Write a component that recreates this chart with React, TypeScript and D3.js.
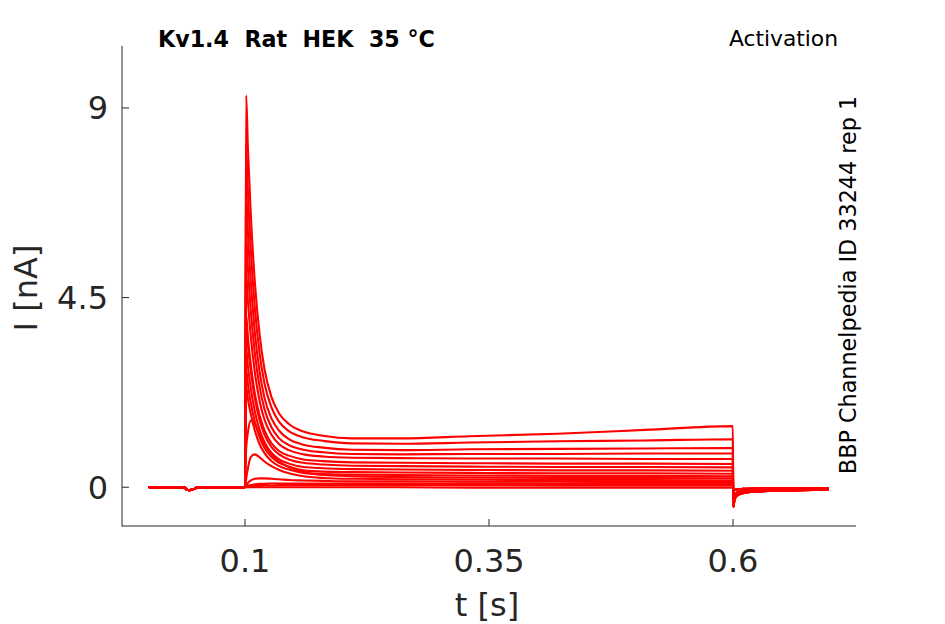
import React from "react";
import * as d3 from "d3";

// ---- data ----
const X_TICKS = [0.1, 0.35, 0.6];
const X_TICK_LABELS = ["0.1", "0.35", "0.6"];
const Y_TICKS = [0, 4.5, 9];
const Y_TICK_LABELS = ["0", "4.5", "9"];

const TIME_PRE = [0.002, 0.038, 0.04, 0.043, 0.047, 0.051, 0.0998];
const BASE_PRE = [0.0, 0.0, -0.05, -0.07, -0.05, -0.01, 0.0];

const TIME_PULSE = [0.1, 0.1012, 0.103, 0.106, 0.11, 0.115, 0.12, 0.127, 0.135, 0.145, 0.16, 0.18, 0.21, 0.26, 0.33, 0.42, 0.51, 0.5998];

const PULSE_1 = [0, 9.3, 8.04, 6.45, 4.9, 3.62, 2.8, 2.15, 1.75, 1.5, 1.32, 1.22, 1.16, 1.16, 1.21, 1.27, 1.36, 1.45];
const PULSE_2 = [0, 8.1, 7.01, 5.62, 4.28, 3.17, 2.46, 1.9, 1.55, 1.33, 1.18, 1.1, 1.04, 1.03, 1.06, 1.09, 1.11, 1.14];
const PULSE_3 = [0, 7.0, 6.06, 4.86, 3.7, 2.74, 2.12, 1.64, 1.34, 1.14, 1.01, 0.94, 0.89, 0.88, 0.9, 0.91, 0.92, 0.93];
const PULSE_4 = [0, 6.0, 5.2, 4.18, 3.2, 2.38, 1.85, 1.43, 1.16, 1.0, 0.89, 0.83, 0.79, 0.78, 0.79, 0.79, 0.8, 0.8];
const PULSE_5 = [0, 5.1, 4.42, 3.57, 2.74, 2.04, 1.6, 1.25, 1.02, 0.88, 0.78, 0.73, 0.7, 0.69, 0.68, 0.68, 0.67, 0.67];
const PULSE_6 = [0, 4.1, 3.56, 2.9, 2.24, 1.7, 1.35, 1.05, 0.86, 0.75, 0.66, 0.62, 0.59, 0.58, 0.57, 0.56, 0.56, 0.55];
const PULSE_7 = [0, 3.9, 3.38, 2.75, 2.12, 1.59, 1.25, 0.96, 0.78, 0.66, 0.58, 0.54, 0.51, 0.5, 0.49, 0.48, 0.48, 0.47];
const PULSE_8 = [0, 3.3, 2.87, 2.34, 1.81, 1.36, 1.07, 0.82, 0.66, 0.56, 0.48, 0.45, 0.43, 0.42, 0.41, 0.4, 0.4, 0.39];
const PULSE_9 = [0, 2.8, 2.44, 2.0, 1.56, 1.18, 0.93, 0.72, 0.58, 0.49, 0.4, 0.37, 0.36, 0.35, 0.34, 0.33, 0.33, 0.32];
const PULSE_10 = [0, 2.4, 2.09, 1.73, 1.35, 1.02, 0.81, 0.62, 0.5, 0.42, 0.34, 0.31, 0.3, 0.29, 0.28, 0.27, 0.27, 0.26];
const PULSE_11 = [0, 0.9, 1.3, 1.58, 1.51, 1.24, 1.01, 0.78, 0.61, 0.48, 0.36, 0.29, 0.26, 0.24, 0.23, 0.22, 0.22, 0.21];
const PULSE_12 = [0, 0.2, 0.45, 0.72, 0.78, 0.71, 0.61, 0.5, 0.41, 0.33, 0.26, 0.22, 0.2, 0.19, 0.18, 0.17, 0.17, 0.16];
const PULSE_13 = [0, 0.05, 0.1, 0.16, 0.2, 0.21, 0.21, 0.2, 0.19, 0.17, 0.16, 0.15, 0.14, 0.14, 0.13, 0.13, 0.12, 0.12];
const PULSE_14 = [0, 0.02, 0.04, 0.05, 0.07, 0.08, 0.08, 0.09, 0.09, 0.09, 0.09, 0.09, 0.09, 0.09, 0.09, 0.08, 0.08, 0.08];
const PULSE_15 = [0, 0.01, 0.01, 0.02, 0.03, 0.03, 0.04, 0.04, 0.05, 0.05, 0.05, 0.05, 0.05, 0.05, 0.05, 0.04, 0.04, 0.04];
const PULSE_16 = [0, 0, 0, 0, 0, 0, 0, 0, 0, 0, 0, 0, 0, 0, -0.01, -0.01, -0.01, -0.01];

const TIME_TAIL = [0.6003, 0.6015, 0.604, 0.61, 0.625, 0.65, 0.697];
const TAIL_LARGE = [-0.47, -0.3, -0.2, -0.14, -0.1, -0.08, -0.06];
const TAIL_MID = [-0.3, -0.2, -0.13, -0.09, -0.07, -0.05, -0.04];
const TAIL_SMALL = [-0.1, -0.07, -0.05, -0.04, -0.03, -0.02, -0.02];

const SWEEPS = [
  { pulse: PULSE_16, tail: TAIL_SMALL },
  { pulse: PULSE_15, tail: TAIL_SMALL },
  { pulse: PULSE_14, tail: TAIL_SMALL },
  { pulse: PULSE_13, tail: TAIL_SMALL },
  { pulse: PULSE_12, tail: TAIL_SMALL },
  { pulse: PULSE_11, tail: TAIL_MID },
  { pulse: PULSE_10, tail: TAIL_MID },
  { pulse: PULSE_9, tail: TAIL_MID },
  { pulse: PULSE_8, tail: TAIL_MID },
  { pulse: PULSE_7, tail: TAIL_MID },
  { pulse: PULSE_6, tail: TAIL_LARGE },
  { pulse: PULSE_5, tail: TAIL_LARGE },
  { pulse: PULSE_4, tail: TAIL_LARGE },
  { pulse: PULSE_3, tail: TAIL_LARGE },
  { pulse: PULSE_2, tail: TAIL_LARGE },
  { pulse: PULSE_1, tail: TAIL_LARGE },
];

const TITLE = "Kv1.4  Rat  HEK  35 °C";
const PROTOCOL = "Activation";
const SIDE_NOTE = "BBP Channelpedia ID 33244 rep 1";

// ---- layout ----
const W = 945;
const H = 624;
const L = 122, R = 856, T = 46, B = 526;
const FONT = "'DejaVu Sans', sans-serif";
const AXIS = "#262626";

export default function App() {
  const x = d3.scaleLinear().domain([-0.026, 0.726]).range([L, R]);
  const y = d3.scaleLinear().domain([-0.92, 10.47]).range([B, T]);
  const line = d3
    .line<[number, number]>()
    .x((d) => x(d[0]))
    .y((d) => y(d[1]))
    .curve(d3.curveMonotoneX);

  const paths = SWEEPS.map((s) => {
    const pts: [number, number][] = [];
    TIME_PRE.forEach((t, i) => pts.push([t, BASE_PRE[i]]));
    TIME_PULSE.forEach((t, i) => pts.push([t, s.pulse[i]]));
    TIME_TAIL.forEach((t, i) => pts.push([t, s.tail[i]]));
    return line(pts) || "";
  });

  return (
    <svg width={W} height={H} style={{ display: "block", position: "absolute", left: 0, top: 0, background: "#fff" }}>
      <rect x={0} y={0} width={W} height={H} fill="#fff" />
      <g fill="none" stroke="#ff0000" strokeWidth={2.1} strokeLinejoin="round" strokeLinecap="round">
        {paths.map((d, i) => (
          <path key={i} d={d} />
        ))}
      </g>
      {/* axes */}
      <g stroke={AXIS} strokeWidth={1} fill="none">
        <line x1={L} y1={T} x2={L} y2={B + 0.5} />
        <line x1={L} y1={B} x2={R} y2={B} />
        {X_TICKS.map((t) => (
          <line key={"xt" + t} x1={x(t)} x2={x(t)} y1={B} y2={B - 7} />
        ))}
        {Y_TICKS.map((t) => (
          <line key={"yt" + t} x1={L} x2={L + 7} y1={y(t)} y2={y(t)} />
        ))}
      </g>
      <g fill={AXIS} fontFamily={FONT} fontSize={32}>
        {X_TICKS.map((t, i) => (
          <text key={"xl" + t} x={x(t)} y={572} textAnchor="middle">
            {X_TICK_LABELS[i]}
          </text>
        ))}
        {Y_TICKS.map((t, i) => (
          <text key={"yl" + t} x={108} y={y(t)} dy="0.36em" textAnchor="end">
            {Y_TICK_LABELS[i]}
          </text>
        ))}
        <text x={487} y={616} textAnchor="middle">t [s]</text>
        <text transform="translate(37,288) rotate(-90)" textAnchor="middle">I [nA]</text>
      </g>
      <text x={158} y={46.5} fontFamily={FONT} fontSize={22.2} fontWeight="bold" fill="#000" style={{ whiteSpace: "pre" }}>
        {TITLE}
      </text>
      <text x={838} y={46} fontFamily={FONT} fontSize={21.8} textAnchor="end" fill="#000">
        {PROTOCOL}
      </text>
      <text transform="translate(856,285) rotate(-90)" fontFamily={FONT} fontSize={22.3} textAnchor="middle" fill="#000">
        {SIDE_NOTE}
      </text>
    </svg>
  );
}
